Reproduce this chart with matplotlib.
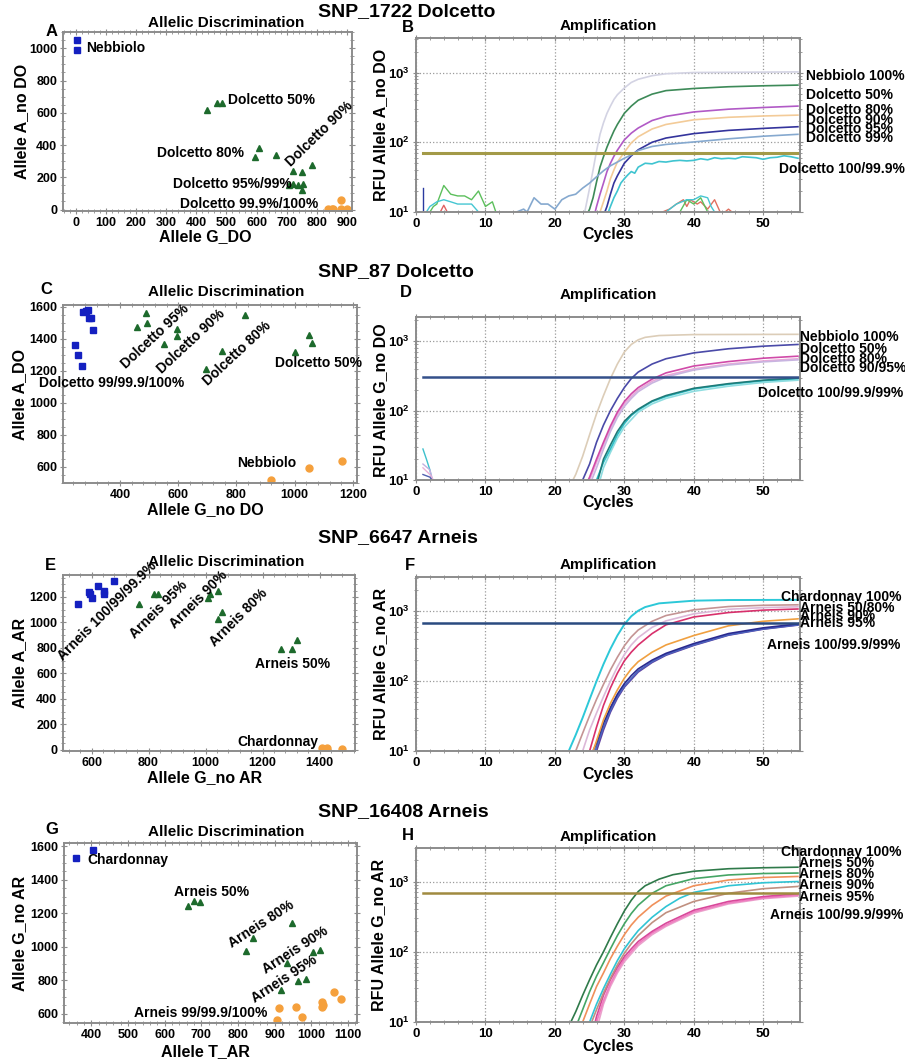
import matplotlib
matplotlib.use("Agg")
import matplotlib.pyplot as plt
from matplotlib.ticker import MultipleLocator, AutoMinorLocator, LogLocator, NullFormatter

plt.rcParams['font.family'] = ['Liberation Sans', 'DejaVu Sans']
plt.rcParams['font.weight'] = 'bold'
plt.rcParams['mathtext.fontset'] = 'custom'
plt.rcParams['mathtext.rm'] = 'Liberation Sans:bold'
plt.rcParams['mathtext.bf'] = 'Liberation Sans:bold'
plt.rcParams['mathtext.it'] = 'Liberation Sans:bold'
plt.rcParams['mathtext.default'] = 'bf'

# ---------------- scatter data (allelic discrimination) ----------------
A_BLUE_X = [4, 4]
A_BLUE_Y = [1052, 990]
A_GREEN_X = [434, 467, 484, 595, 609, 664, 720, 750, 783, 709, 722, 737, 753, 750]
A_GREEN_Y = [616, 662, 662, 327, 379, 337, 240, 234, 275, 155, 161, 155, 161, 120]
A_ORANGE_X = [838, 849, 855, 882, 882, 899]
A_ORANGE_Y = [2, 2, 2, 58, 2, 2]

C_BLUE_X = [245, 256, 269, 273, 283, 290, 293, 300, 307]
C_BLUE_Y = [1361, 1298, 1229, 1567, 1573, 1579, 1529, 1529, 1454]
C_GREEN_X = [458, 489, 493, 551, 596, 596, 696, 751, 830, 1001, 1049, 1060]
C_GREEN_Y = [1473, 1561, 1498, 1367, 1461, 1417, 1211, 1323, 1548, 1317, 1423, 1373]
C_ORANGE_X = [919, 1049, 1163]
C_ORANGE_Y = [517, 592, 636]

E_BLUE_X = [552, 591, 594, 601, 622, 643, 643, 678]
E_BLUE_Y = [1148, 1242, 1219, 1195, 1289, 1250, 1219, 1328]
E_GREEN_X = [766, 818, 832, 1010, 1017, 1042, 1042, 1056, 1266, 1304, 1322]
E_GREEN_Y = [1148, 1219, 1219, 1188, 1219, 1250, 1023, 1078, 789, 789, 859]
E_ORANGE_X = [1410, 1425, 1480]
E_ORANGE_Y = [12, 12, 8]

G_BLUE_X = [403, 359]
G_BLUE_Y = [1576, 1529]
G_GREEN_X = [664, 681, 697, 948, 841, 822, 934, 1005, 1024, 964, 985, 918]
G_GREEN_Y = [1243, 1273, 1267, 1142, 1052, 975, 904, 969, 981, 796, 808, 743]
G_ORANGE_X = [907, 912, 958, 975, 1030, 1030, 1062, 1081, 1033]
G_ORANGE_Y = [564, 636, 642, 583, 671, 638, 731, 689, 655]

# ---------------- amplification data (cycle, RFU) ----------------
# panel B, SNP_1722 allele A_no DO
b_neb_c = [24.3, 25, 25.5, 26, 26.5, 27, 27.5, 28, 28.5, 29, 30, 31, 32, 34, 36, 40, 55]
b_neb_v = [10, 22, 40, 75, 130, 190, 260, 330, 410, 480, 600, 720, 800, 900, 960, 1000, 1020]
b_d50_c = [24.8, 25, 25.5, 26, 26.5, 27, 27.5, 28, 28.5, 29, 30, 31, 32, 34, 36, 40, 45, 50, 55]
b_d50_v = [10, 11, 16, 27, 44, 62, 85, 112, 145, 180, 260, 330, 400, 490, 550, 590, 625, 645, 660]
b_d80_c = [25.8, 26, 26.5, 27, 27.5, 28, 28.5, 29, 30, 31, 32, 34, 36, 40, 45, 50, 55]
b_d80_v = [10, 12, 18, 26, 38, 50, 63, 77, 108, 135, 160, 205, 235, 272, 298, 315, 330]
b_d90_c = [26.5, 27, 27.5, 28, 28.5, 29, 30, 31, 32, 34, 36, 40, 45, 50, 55]
b_d90_v = [10, 14, 20, 30, 40, 52, 72, 98, 120, 155, 180, 210, 228, 238, 245]
b_d95_c = [27.2, 27.5, 28, 28.5, 29, 30, 31, 32, 34, 36, 40, 45, 50, 55]
b_d95_v = [10, 12, 18, 26, 33, 50, 64, 78, 100, 115, 133, 148, 158, 167]
b_d99_c = [14.5, 15.5, 16, 17, 18, 19, 20, 21, 22, 23, 24, 25, 26, 27, 28, 29, 30, 31, 32, 34,
           36, 40, 45, 50, 55]
b_d99_v = [10, 11, 10, 16, 13, 13, 11, 15, 17, 18, 22, 26, 32, 39, 46, 52, 59, 66, 76, 87,
           93, 101, 112, 122, 130]
b_d100_c = [27.7, 28, 28.5, 29, 29.5, 30, 30.5, 31, 31.5, 32, 33, 34, 35, 36, 37, 38, 39, 40,
            41, 42, 43, 44, 45, 46, 47, 48, 49, 50, 51, 52, 53, 54, 55]
b_d100_v = [10, 12, 16, 20, 26, 30, 34, 38, 36, 44, 50, 49, 53, 52, 54, 55, 54, 55,
            58, 56, 60, 58, 59, 58, 62, 61, 60, 57, 60, 61, 64, 62, 59]
b_noise_green_c = [2, 2.5, 3, 4, 5, 6, 7, 8, 9, 10, 11, 11.5]
b_noise_green_v = [10, 12, 13, 24, 18, 17, 17, 15, 20, 12, 14, 10]
b_noise_cyan_c = [1.5, 2, 3, 4, 5, 6, 7, 8, 9]
b_noise_cyan_v = [10, 12, 14, 15, 14, 13, 13, 13, 10]
b_noise_red_c = [3.5, 4, 4.5]
b_noise_red_v = [10, 12.5, 10]
b_spike_c = [1, 1]
b_spike_v = [10, 22]
b_late_red_c = [35.5, 36.5, 37.5, 38.5, 39, 39.5, 40.5, 41, 42, 43, 43.8, 44.5, 45, 45.5]
b_late_red_v = [10, 11, 13, 15, 12, 15, 13, 14, 11, 15, 10, 10, 11, 10]
b_late_green_c = [38, 39, 40, 41, 42]
b_late_green_v = [10, 15, 13, 16, 10]
b_late_cyan_c = [36, 37.5, 39, 40, 41, 42, 42.5, 43]
b_late_cyan_v = [10, 13, 15, 15, 17, 16, 12, 10]
B_THRESHOLD = 70

# panel D, SNP_87 allele G_no DO
d_neb_c = [22.6, 23, 24, 25, 26, 27, 28, 29, 30, 31, 32, 33, 35, 40, 55]
d_neb_v = [10, 12, 22, 45, 90, 165, 290, 470, 700, 900, 1050, 1140, 1210, 1250, 1260]
d_d50_c = [24, 25, 26, 27, 28, 29, 30, 31, 32, 34, 36, 40, 45, 50, 55]
d_d50_v = [10, 17, 35, 62, 100, 150, 215, 290, 360, 470, 560, 680, 780, 850, 900]
d_d80_c = [24.8, 25, 26, 27, 28, 29, 30, 31, 32, 34, 36, 40, 45, 50, 55]
d_d80_v = [10, 11, 20, 35, 60, 95, 135, 175, 215, 285, 350, 440, 510, 570, 610]
d_d90_c = [25, 26, 27, 28, 29, 30, 31, 32, 34, 36, 40, 45, 50, 55]
d_d90_v = [10, 18, 32, 55, 88, 125, 160, 200, 265, 320, 400, 470, 520, 560]
d_d95_c = [25.3, 26, 27, 28, 29, 30, 31, 32, 34, 36, 40, 45, 50, 55]
d_d95_v = [10, 15, 28, 50, 80, 115, 150, 188, 250, 305, 385, 455, 505, 540]
d_d100_c = [26, 27, 28, 29, 30, 31, 32, 34, 36, 40, 45, 50, 55]
d_d100_v = [10, 18, 28, 45, 65, 85, 102, 135, 160, 205, 240, 270, 290]
d_d999_c = [26.2, 27, 28, 29, 30, 31, 32, 34, 36, 40, 45, 50, 55]
d_d999_v = [10, 20, 32, 50, 70, 88, 105, 138, 165, 210, 245, 275, 295]
d_d99_c = [26.5, 27, 28, 29, 30, 32, 34, 36, 40, 45, 50, 55]
d_d99_v = [10, 15, 25, 40, 58, 95, 125, 150, 190, 225, 255, 275]
d_noise_cyan_c = [1, 1.5, 2, 2.3]
d_noise_cyan_v = [28, 20, 14, 10]
d_noise_lav_c = [1, 2, 2.4]
d_noise_lav_v = [17, 14, 10]
d_noise_pink_c = [1, 2, 2.5]
d_noise_pink_v = [15, 12, 10]
d_noise_blue_c = [1, 2, 2.3]
d_noise_blue_v = [12, 11, 10]
D_THRESHOLD = 307

# panel F, SNP_6647 allele G_no AR
f_char_c = [22, 23, 24, 25, 26, 27, 28, 29, 30, 31, 32, 33, 35, 40, 45, 55]
f_char_v = [10, 17, 30, 55, 100, 175, 290, 450, 650, 850, 1020, 1150, 1300, 1420, 1450, 1460]
f_a50_c = [23, 24, 25, 26, 27, 28, 29, 30, 31, 32, 34, 36, 40, 45, 50, 55]
f_a50_v = [10, 18, 32, 55, 90, 145, 220, 320, 430, 540, 720, 870, 1050, 1170, 1220, 1240]
f_a80_c = [24, 25, 26, 27, 28, 29, 30, 31, 32, 34, 36, 40, 45, 50, 55]
f_a80_v = [10, 20, 35, 60, 100, 160, 240, 330, 420, 590, 730, 920, 1070, 1130, 1160]
f_a90_c = [25, 26, 27, 28, 29, 30, 31, 32, 34, 36, 40, 45, 50, 55]
f_a90_v = [10, 22, 45, 80, 130, 195, 260, 330, 480, 640, 830, 960, 1040, 1080]
f_a95_c = [25.5, 26, 27, 28, 29, 30, 31, 32, 34, 36, 40, 45, 50, 55]
f_a95_v = [10, 14, 28, 48, 75, 110, 150, 190, 260, 330, 450, 620, 720, 780]
f_a100_c = [25.5, 26, 27, 28, 29, 30, 31, 32, 34, 36, 40, 45, 50, 55]
f_a100_v = [10, 13, 25, 42, 65, 92, 120, 150, 200, 250, 345, 480, 580, 660]
f_a999_c = [25.8, 27, 28, 29, 30, 32, 34, 36, 40, 45, 50, 55]
f_a999_v = [10, 22, 38, 60, 85, 140, 190, 240, 330, 460, 560, 640]
f_a99_c = [26, 27, 28, 29, 30, 32, 34, 36, 40, 45, 50, 55]
f_a99_v = [10, 20, 36, 57, 82, 135, 185, 235, 325, 455, 555, 635]
F_THRESHOLD = 680

# panel H, SNP_16408 allele G_no AR
h_a50_c = [22.3, 23, 24, 25, 26, 27, 28, 29, 30, 31, 32, 33, 35, 37, 40, 45, 50, 55]
h_a50_v = [10, 14, 24, 40, 65, 100, 160, 250, 380, 540, 720, 870, 1080, 1250, 1400, 1520, 1570, 1600]
h_a80_c = [23.3, 24, 25, 26, 27, 28, 29, 30, 31, 32, 34, 36, 40, 45, 50, 55]
h_a80_v = [10, 15, 27, 45, 70, 110, 170, 250, 350, 460, 680, 870, 1100, 1240, 1300, 1320]
h_or_c = [24, 25, 26, 27, 28, 29, 30, 31, 32, 34, 36, 40, 45, 50, 55]
h_or_v = [10, 18, 32, 50, 80, 120, 175, 240, 310, 460, 620, 870, 1050, 1140, 1180]
h_cy_c = [25, 26, 27, 28, 29, 30, 31, 32, 34, 36, 38, 40, 45, 50, 55]
h_cy_v = [10, 18, 30, 48, 75, 110, 150, 200, 310, 440, 580, 700, 870, 960, 1000]
h_br_c = [25.3, 26, 27, 28, 29, 30, 31, 32, 34, 36, 40, 45, 50, 55]
h_br_v = [10, 15, 26, 42, 65, 95, 130, 170, 260, 360, 520, 680, 790, 850]
h_mg_c = [25.8, 26, 27, 28, 29, 30, 31, 32, 34, 36, 40, 45, 50, 55]
h_mg_v = [10, 12, 24, 40, 60, 85, 110, 140, 195, 255, 390, 520, 610, 670]
h_pk_c = [26, 27, 28, 29, 30, 32, 34, 36, 40, 45, 50, 55]
h_pk_v = [10, 20, 35, 54, 78, 130, 185, 240, 370, 495, 585, 640]
h_lp_c = [26.3, 27, 28, 29, 30, 32, 34, 36, 40, 45, 50, 55]
h_lp_v = [10, 18, 32, 50, 72, 122, 175, 230, 355, 480, 570, 620]
H_THRESHOLD = 680

W, H = 905, 1063
fig = plt.figure(figsize=(W / 100, H / 100), dpi=100)

AMP_L, AMP_R = 416, 800


def box(l, t, r, b):
    return fig.add_axes([l / W, 1 - b / H, (r - l) / W, (b - t) / H])


def put(x, y, s, **kw):
    kw.setdefault('va', 'center')
    fig.text(x / W, 1 - y / H, s, **kw)


def frame(ax, size=9):
    for s in ax.spines.values():
        s.set_color('#8c8c8c')
        s.set_linewidth(1.4)
    ax.tick_params(which='both', direction='inout', top=True, right=True,
                   color='#8c8c8c', labelcolor='black', labelsize=size, pad=2)
    ax.tick_params(which='major', length=4.5)
    ax.tick_params(which='minor', length=3)


def scatter_panel(ax, bx, by, gx, gy, ox, oy, xlim, ylim, xstep, ystep):
    ax.plot(bx, by, 's', color='#1420c0', ms=4.6, mec='#1420c0')
    ax.plot(gx, gy, '^', color='#1d6a2c', ms=4.2, mec='#1d6a2c')
    ax.plot(ox, oy, 'o', color='#f5a03c', ms=5, mec='#f5a03c')
    ax.set_xlim(xlim)
    ax.set_ylim(ylim)
    ax.xaxis.set_major_locator(MultipleLocator(xstep))
    ax.yaxis.set_major_locator(MultipleLocator(ystep))
    ax.xaxis.set_minor_locator(AutoMinorLocator(5))
    ax.yaxis.set_minor_locator(AutoMinorLocator(4))
    frame(ax)


def amp_panel(ax, ytop):
    ax.set_yscale('log')
    ax.set_xlim(0, 55.3)
    ax.set_ylim(10, ytop)
    ax.xaxis.set_major_locator(MultipleLocator(10))
    ax.xaxis.set_minor_locator(MultipleLocator(2))
    ax.yaxis.set_major_locator(LogLocator(base=10, numticks=10))
    ax.yaxis.set_minor_locator(LogLocator(base=10, subs=range(2, 10), numticks=20))
    ax.yaxis.set_minor_formatter(NullFormatter())
    ax.grid(which='major', linestyle=':', color='#9a9a9a', linewidth=0.9)
    frame(ax, 9.5)


ann = dict(fontsize=10, fontweight='bold')
amp_ann = dict(fontsize=10, fontweight='bold', ha='left')
title_kw = dict(fontsize=11, fontweight='bold', ha='center')
lab_kw = dict(fontsize=11.5, fontweight='bold', ha='center')
letter_kw = dict(fontsize=12, fontweight='bold', ha='center')
snp_kw = dict(fontsize=14, fontweight='bold', ha='left')

# ---------------- A ----------------
ax = box(63, 32, 352, 211)
scatter_panel(ax, A_BLUE_X, A_BLUE_Y, A_GREEN_X, A_GREEN_Y, A_ORANGE_X, A_ORANGE_Y,
              (-43, 917), (-9, 1101), 100, 200)
ax.text(33, 1002, "Nebbiolo", va='center', ha='left', **ann)
ax.text(505, 679, "Dolcetto 50%", va='center', ha='left', **ann)
ax.text(269, 350, "Dolcetto 80%", va='center', ha='left', **ann)
ax.text(809, 467, "Dolcetto 90%", va='center', ha='center', rotation=44, **ann)
ax.text(322, 157, "Dolcetto 95%/99%", va='center', ha='left', **ann)
ax.text(346, 33, "Dolcetto 99.9%/100%", va='center', ha='left', **ann)

# ---------------- B ----------------
ax = box(AMP_L, 38, AMP_R, 212)
amp_panel(ax, 3125)
for c, v, col in [(b_noise_green_c, b_noise_green_v, '#5cbf5c'), (b_noise_cyan_c, b_noise_cyan_v, '#45c6d2'),
                  (b_noise_red_c, b_noise_red_v, '#e06060'), (b_spike_c, b_spike_v, '#2a3aa0'),
                  (b_late_red_c, b_late_red_v, '#e07060'), (b_late_green_c, b_late_green_v, '#5cbf5c'),
                  (b_late_cyan_c, b_late_cyan_v, '#45c6d2')]:
    ax.plot(c, v, color=col, lw=1.0)
ax.plot(b_neb_c, b_neb_v, color='#d3d3e3', lw=1.2)
ax.plot(b_d50_c, b_d50_v, color='#3d8a58', lw=1.2)
ax.plot(b_d80_c, b_d80_v, color='#b15ac6', lw=1.2)
ax.plot(b_d90_c, b_d90_v, color='#f3cb98', lw=1.2)
ax.plot(b_d95_c, b_d95_v, color='#34349c', lw=1.2)
ax.plot(b_d99_c, b_d99_v, color='#86a9cf', lw=1.2)
ax.plot(b_d100_c, b_d100_v, color='#3fc4d0', lw=1.2)
ax.plot([1, 55], [B_THRESHOLD, B_THRESHOLD], color='#a39a48', lw=2.2)
for s, x, y in [("Nebbiolo 100%", 806, 76), ("Dolcetto 50%", 806, 95), ("Dolcetto 80%", 806, 110),
                ("Dolcetto 90%", 806, 120), ("Dolcetto 95%", 806, 129), ("Dolcetto 99%", 806, 138),
                ("Dolcetto 100/99.9%", 779, 169)]:
    put(x, y, s, **amp_ann)

# ---------------- C ----------------
ax = box(63, 305, 357, 483)
scatter_panel(ax, C_BLUE_X, C_BLUE_Y, C_GREEN_X, C_GREEN_Y, C_ORANGE_X, C_ORANGE_Y,
              (204, 1214), (498, 1612), 200, 200)
ax.text(372, 1123, "Dolcetto 99/99.9/100%", va='center', ha='center', **ann)
ax.text(520, 1417, "Dolcetto 95%", va='center', ha='center', rotation=43, **ann)
ax.text(644, 1385, "Dolcetto 90%", va='center', ha='center', rotation=43, **ann)
ax.text(802, 1310, "Dolcetto 80%", va='center', ha='center', rotation=43, **ann)
ax.text(933, 1248, "Dolcetto 50%", va='center', ha='left', **ann)
ax.text(905, 623, "Nebbiolo", va='center', ha='center', **ann)

# ---------------- D ----------------
ax = box(AMP_L, 317, AMP_R, 480)
amp_panel(ax, 2240)
for c, v, col in [(d_noise_cyan_c, d_noise_cyan_v, '#3cc0cc'), (d_noise_lav_c, d_noise_lav_v, '#c0b0e0'),
                  (d_noise_pink_c, d_noise_pink_v, '#eab0d8'), (d_noise_blue_c, d_noise_blue_v, '#5060b0')]:
    ax.plot(c, v, color=col, lw=1.0)
ax.plot(d_neb_c, d_neb_v, color='#dccdb8', lw=1.2)
ax.plot(d_d90_c, d_d90_v, color='#eaa8d8', lw=1.2)
ax.plot(d_d95_c, d_d95_v, color='#c8b4e0', lw=1.2)
ax.plot(d_d80_c, d_d80_v, color='#d04aa8', lw=1.2)
ax.plot(d_d50_c, d_d50_v, color='#4a4aa8', lw=1.2)
ax.plot(d_d99_c, d_d99_v, color='#8fdde0', lw=1.2)
ax.plot(d_d100_c, d_d100_v, color='#2cc0c8', lw=1.2)
ax.plot(d_d999_c, d_d999_v, color='#1f7a78', lw=1.2)
ax.plot([1, 55], [D_THRESHOLD, D_THRESHOLD], color='#34508a', lw=1.8)
for s, x, y in [("Nebbiolo 100%", 800, 337), ("Dolcetto 50%", 800, 349), ("Dolcetto 80%", 800, 359),
                ("Dolcetto 90/95%", 800, 368), ("Dolcetto 100/99.9/99%", 758, 393)]:
    put(x, y, s, **amp_ann)

# ---------------- E ----------------
ax = box(63, 575, 355, 751)
scatter_panel(ax, E_BLUE_X, E_BLUE_Y, E_GREEN_X, E_GREEN_Y, E_ORANGE_X, E_ORANGE_Y,
              (500, 1524), (-10, 1372), 200, 200)
ax.text(654, 1086, "Arneis 100/99/99.9%", va='center', ha='center', rotation=45, **ann)
ax.text(836, 1102, "Arneis 95%", va='center', ha='center', rotation=45, **ann)
ax.text(976, 1180, "Arneis 90%", va='center', ha='center', rotation=45, **ann)
ax.text(1115, 1039, "Arneis 80%", va='center', ha='center', rotation=45, **ann)
ax.text(1304, 672, "Arneis 50%", va='center', ha='center', **ann)
ax.text(1252, 62, "Chardonnay", va='center', ha='center', **ann)

# ---------------- F ----------------
ax = box(AMP_L, 577, AMP_R, 751)
amp_panel(ax, 3100)
ax.plot(f_a99_c, f_a99_v, color='#6040a0', lw=1.2)
ax.plot(f_a999_c, f_a999_v, color='#4a66c0', lw=1.2)
ax.plot(f_a100_c, f_a100_v, color='#2a2a90', lw=1.2)
ax.plot(f_a95_c, f_a95_v, color='#f0a040', lw=1.2)
ax.plot(f_a90_c, f_a90_v, color='#d8306c', lw=1.2)
ax.plot(f_a80_c, f_a80_v, color='#dcb8d8', lw=1.2)
ax.plot(f_a50_c, f_a50_v, color='#c49494', lw=1.2)
ax.plot(f_char_c, f_char_v, color='#2cc8d8', lw=1.4)
ax.plot([1, 55], [F_THRESHOLD, F_THRESHOLD], color='#2a4a80', lw=1.8)
for s, x, y in [("Chardonnay 100%", 781, 597), ("Arneis 50/80%", 800, 608), ("Arneis 90%", 800, 616),
                ("Arneis 95%", 800, 623), ("Arneis 100/99.9/99%", 767, 645)]:
    put(x, y, s, **amp_ann)

# ---------------- G ----------------
ax = box(64, 843, 357, 1023)
scatter_panel(ax, G_BLUE_X, G_BLUE_Y, G_GREEN_X, G_GREEN_Y, G_ORANGE_X, G_ORANGE_Y,
              (325, 1125), (545, 1620), 100, 200)
ax.text(389, 1517, "Chardonnay", va='center', ha='left', **ann)
ax.text(727, 1326, "Arneis 50%", va='center', ha='center', **ann)
ax.text(863, 1136, "Arneis 80%", va='center', ha='center', rotation=33, **ann)
ax.text(956, 981, "Arneis 90%", va='center', ha='center', rotation=33, **ann)
ax.text(926, 808, "Arneis 95%", va='center', ha='center', rotation=33, **ann)
ax.text(697, 606, "Arneis 99/99.9/100%", va='center', ha='center', **ann)

# ---------------- H ----------------
ax = box(AMP_L, 848, AMP_R, 1022)
amp_panel(ax, 3000)
ax.plot(h_lp_c, h_lp_v, color='#eaa2cc', lw=1.2)
ax.plot(h_pk_c, h_pk_v, color='#f07cc0', lw=1.2)
ax.plot(h_mg_c, h_mg_v, color='#d8489a', lw=1.2)
ax.plot(h_br_c, h_br_v, color='#c09080', lw=1.2)
ax.plot(h_cy_c, h_cy_v, color='#30c4d4', lw=1.2)
ax.plot(h_or_c, h_or_v, color='#f0905a', lw=1.2)
ax.plot(h_a80_c, h_a80_v, color='#45a565', lw=1.2)
ax.plot(h_a50_c, h_a50_v, color='#2f7a4a', lw=1.2)
ax.plot([1, 55], [H_THRESHOLD, H_THRESHOLD], color='#a08a40', lw=1.8)
for s, x, y in [("Chardonnay 100%", 781, 852), ("Arneis 50%", 799, 863), ("Arneis 80%", 799, 874),
                ("Arneis 90%", 799, 885), ("Arneis 95%", 799, 897), ("Arneis 100/99.9/99%", 770, 915)]:
    put(x, y, s, **amp_ann)

# ---------------- titles and labels ----------------
for y, s in [(12, "SNP_1722 Dolcetto"), (272, "SNP_87 Dolcetto"),
             (538, "SNP_6647 Arneis"), (812, "SNP_16408 Arneis")]:
    put(318, y, s, **snp_kw)
for y in [23, 292, 562, 832]:
    put(226, y, "Allelic Discrimination", **title_kw)
for y in [26, 295, 565, 837]:
    put((AMP_L + AMP_R) / 2, y, "Amplification", **title_kw)
for x, y, s in [(52, 32, "A"), (408, 28, "B"), (46, 289, "C"), (406, 293, "D"),
                (50, 565, "E"), (410, 565, "F"), (52, 830, "G"), (408, 835, "H")]:
    put(x, y, s, **letter_kw)
for x, y, s in [(205, 237, "Allele G_DO"), (608, 234, "Cycles"), (205, 510, "Allele G_no DO"),
                (608, 503, "Cycles"), (205, 778, "Allele G_no AR"), (608, 775, "Cycles"),
                (205, 1052, "Allele T_AR"), (608, 1047, "Cycles")]:
    put(x, y, s, **lab_kw)
for x, y, s in [(22, 121, "Allele A_no DO"), (381, 125, "RFU Allele A_no DO"),
                (20, 394, "Allele A_DO"), (381, 400, "RFU Allele G_no DO"),
                (20, 663, "Allele A_AR"), (381, 664, "RFU Allele G_no AR"),
                (20, 933, "Allele G_no AR"), (379, 935, "RFU Allele G_no AR")]:
    put(x, y, s, rotation=90, **lab_kw)

fig.savefig("out.png", dpi=100)
